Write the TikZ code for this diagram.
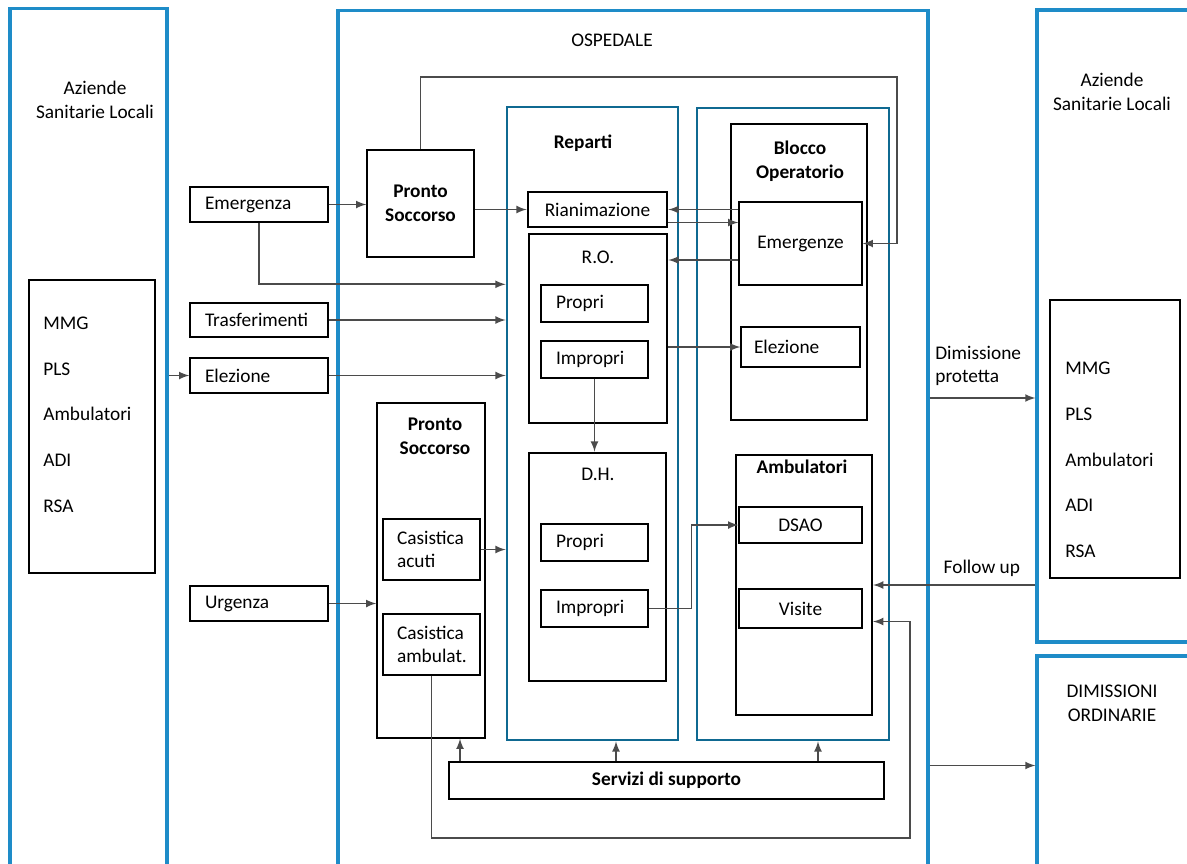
\documentclass[tikz,border=0pt]{standalone}
\usepackage{fontspec}
\setmainfont{Carlito}
\usetikzlibrary{arrows}
\usetikzlibrary{calc}
\definecolor{ospblue}{RGB}{30,140,200}
\definecolor{repblue}{RGB}{15,105,145}
\definecolor{lnkgray}{RGB}{75,75,75}

\tikzset{
  box/.style={draw, line width=0.8pt, inner sep=0pt, align=center},
  thickbox/.style={draw, line width=1.6pt, inner sep=0pt, align=center},
  bluebox/.style={draw=ospblue, line width=1.8pt, inner sep=0pt},
  repbox/.style={draw=repblue, line width=1.6pt, inner sep=0pt},
  inbox/.style={draw, line width=0.8pt, inner xsep=0.3cm, inner ysep=0pt, align=left, text width=#1},
  title/.style={font=\fontsize{11}{13.5}\selectfont\bfseries, align=center},
  list/.style={font=\fontsize{11}{26}\selectfont, align=left, anchor=west, inner xsep=0pt},
  link/.style={-latex, draw=lnkgray, line width=1pt},
}

\begin{document}
\begin{tikzpicture}[x=0.02cm, y=-0.02cm, font=\fontsize{11}{13.5}\selectfont]
  \useasboundingbox (0,0) rectangle (1187,863);

  % Aziende Sanitarie Locali (sinistra)
  \node[bluebox, minimum width=3.14cm, minimum height=17.34cm] (aslL) at (88.5,441.5) {};
  \node[align=center] (aslLt) at (95,100) {Aziende\\Sanitarie Locali};
  \node[box, minimum width=2.52cm, minimum height=5.86cm] (mmgL) at (92,426.5) {};
  \node[list] (lstL) at (43,414.5) {MMG\\PLS\\Ambulatori\\ADI\\RSA};

  \node[inbox=2.16cm, minimum height=0.7cm] (emerg) at (259,204.5) {Emergenza};
  \node[inbox=2.16cm, minimum height=0.68cm] (trasf) at (259,320) {Trasferimenti};
  \node[inbox=2.16cm, minimum height=0.7cm] (elez) at (259,375.5) {Elezione};
  \node[inbox=2.16cm, minimum height=0.7cm] (urg) at (259,603.5) {Urgenza};

  % Ospedale
  \node[bluebox, minimum width=11.8cm, minimum height=17.3cm] (osp) at (633,442.5) {};
  \node (ospt) at (612,40) {OSPEDALE};

  \node[box, minimum width=2.14cm, minimum height=2.14cm, font=\fontsize{11}{13.5}\selectfont\bfseries] (ps1) at (420.5,203.5) {Pronto\\Soccorso};

  \node[box, minimum width=2.16cm, minimum height=6.7cm] (ps2) at (431,570.5) {};
  \node[title] (ps2t) at (435,436) {Pronto\\Soccorso};
  \node[inbox=1.38cm, inner xsep=0.28cm, minimum height=1.22cm] (casA) at (431.5,549.5) {Casistica\\acuti};
  \node[inbox=1.38cm, inner xsep=0.28cm, minimum height=1.22cm] (casB) at (431.5,644.5) {Casistica\\ambulat.};

  % Reparti
  \node[repbox, minimum width=3.42cm, minimum height=12.66cm] (rep) at (592.5,423.5) {};
  \node[title] (rept) at (583,143) {Reparti};
  \node[thickbox, minimum width=2.78cm, minimum height=0.7cm] (ria) at (597.5,209.5) {Rianimazione};
  \node[thickbox, minimum width=2.76cm, minimum height=3.78cm] (ro) at (598,328.5) {};
  \node (rot) at (598,257) {R.O.};
  \node[inbox=1.54cm, minimum height=0.74cm] (roP) at (594.5,303.5) {Propri};
  \node[inbox=1.54cm, minimum height=0.74cm] (roI) at (594.5,359.5) {Impropri};
  \node[thickbox, minimum width=2.74cm, minimum height=4.56cm] (dh) at (597.5,567) {};
  \node (dht) at (598,474) {D.H.};
  \node[inbox=1.54cm, minimum height=0.74cm] (dhP) at (594.5,542.5) {Propri};
  \node[inbox=1.54cm, minimum height=0.74cm] (dhI) at (594.5,608.5) {Impropri};

  % Blocco operatorio e ambulatori
  \node[repbox, minimum width=3.84cm, minimum height=12.64cm] (rbox) at (793,424) {};
  \node[draw, line width=1.3pt, minimum width=2.72cm, minimum height=5.92cm] (bo) at (799,272) {};
  \node[title] (bot) at (800,161) {Blocco\\Operatorio};
  \node[box, minimum width=2.46cm, minimum height=1.66cm] (boE) at (800.5,243.5) {Emergenze};
  \node[inbox=1.86cm, inner xsep=0.26cm, minimum height=0.8cm] (boEl) at (800.5,347) {Elezione};
  \node[draw, line width=1.3pt, minimum width=2.72cm, minimum height=5.2cm] (amb) at (804,585) {};
  \node[title] (ambt) at (802,467) {Ambulatori};
  \node[box, minimum width=2.46cm, minimum height=0.72cm] (dsao) at (800.5,525) {DSAO};
  \node[box, minimum width=2.46cm, minimum height=0.78cm] (vis) at (800.5,608.5) {Visite};

  \node[box, minimum width=8.7cm, minimum height=0.74cm, font=\fontsize{11}{13.5}\selectfont\bfseries] (serv) at (666.5,780.5) {Servizi di supporto};

  % Aziende Sanitarie Locali (destra)
  \node[bluebox, minimum width=3.26cm, minimum height=12.64cm] (aslR) at (1118.5,326) {};
  \node[align=center] (aslRt) at (1112,92) {Aziende\\Sanitarie Locali};
  \node[box, minimum width=2.6cm, minimum height=5.56cm] (mmgR) at (1115,439) {};
  \node[list] (lstR) at (1065,460) {MMG\\PLS\\Ambulatori\\ADI\\RSA};
  \node[bluebox, minimum width=3.26cm, minimum height=4.38cm] (dimO) at (1118.5,765.5) {};
  \node[align=center] (dimOt) at (1112,703) {DIMISSIONI\\ORDINARIE};

  % collegamenti
  \draw[link] (aslL.east |- elez.west) -- (elez.west);
  \draw[link] (emerg.east) -- (emerg.east -| ps1.west);
  \draw[link] (emerg.south) |- (rep.west |- roP.north);
  \draw[link] (trasf.east) -- (trasf.east -| rep.west);
  \draw[link] (elez.east) -- (elez.east -| rep.west);
  \draw[link] (urg.east) -- (urg.east -| ps2.west);
  \draw[link] (casA.east) -- (casA.east -| rep.west);
  \draw[link] (ps1.east |- ria.west) -- (ria.west);

  \coordinate (psloop) at (897,77);
  \draw[link] (ps1.north) |- (psloop) |- (boE.east);

  \draw[link] (ria.east -| boE.west) -- (ria.east);
  \draw[link] ($(ria.east)+(0,13)$) -- ($(ria.east -| boE.west)+(0,13)$);
  \draw[link] ($(boE.west)+(0,16.5)$) -- ($(boE.west -| ro.east)+(0,16.5)$);
  \draw[link] (ro.east |- boEl.west) -- (boEl.west);
  \draw[link] (roI.south) -- (roI.south |- dh.north);
  \draw[link] (dhI.east) -| ($(rbox.west |- dsao.west)+(-4,0)$) -- (dsao.west);

  \foreach \xx/\tgt in {460/ps2, 616/rep, 818/rbox}
    \draw[link] (serv.north -| \xx,0) -- (\xx,0 |- \tgt.south);

  \coordinate (fbk) at (910,838);
  \draw[link] (casB.south) |- (fbk) |- ($(vis.east -| amb.east)+(0,13)$);

  \draw[link] (amb.east -| aslR.west) -- (amb.east) node[pos=0.33, above=1pt] (fup) {Follow up};
  \draw[link] ($(osp.east)+(0,-44.5)$) -- ($(osp.east -| aslR.west)+(0,-44.5)$);
  \node[align=left, anchor=west, inner xsep=0pt] (dimPt) at (935,366) {Dimissione\\protetta};
  \draw[link] (dimO.west -| osp.east) -- (dimO.west);
\end{tikzpicture}
\end{document}
